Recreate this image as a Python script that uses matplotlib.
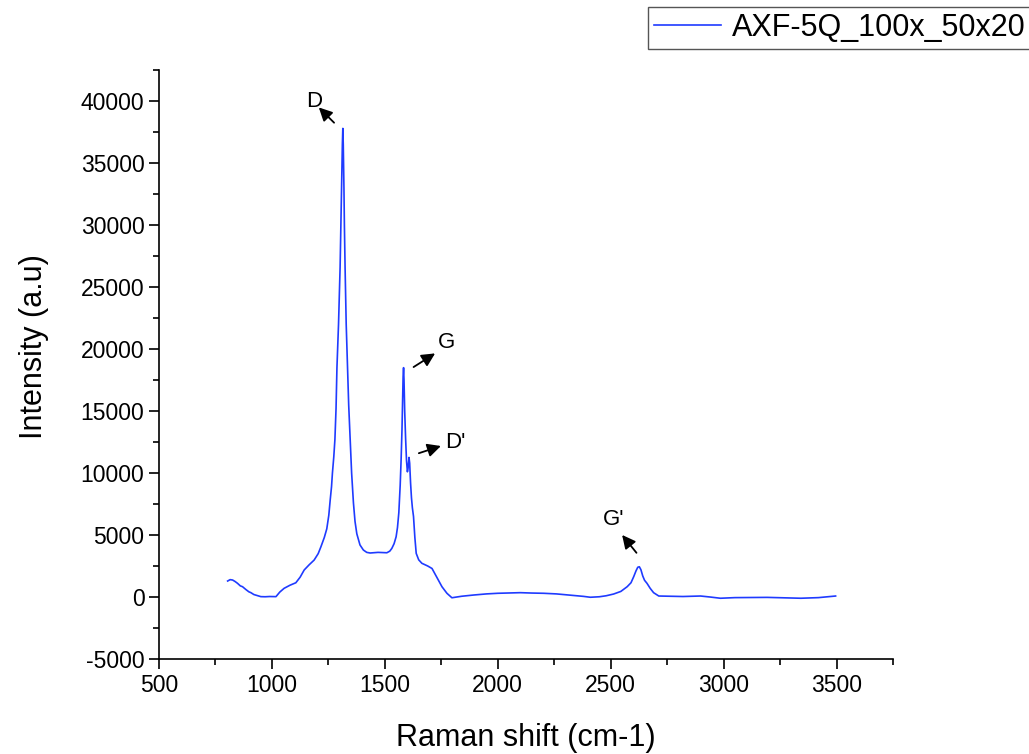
import matplotlib
matplotlib.use("Agg")
import matplotlib.pyplot as plt
from matplotlib.ticker import MultipleLocator

plt.rcParams['font.family'] = ['Liberation Sans', 'DejaVu Sans']
plt.rcParams['axes.unicode_minus'] = False

# spectrum (Raman shift, intensity)
shift = [804, 815, 826, 837, 848, 860, 870, 885, 898, 907, 920, 935, 951, 970,
         990, 1018, 1035, 1054, 1080, 1106, 1125, 1143, 1165, 1187, 1205, 1217,
         1232, 1243, 1252, 1258, 1264, 1268, 1274, 1279, 1284, 1288, 1295, 1302,
         1306, 1309, 1312, 1314, 1316, 1319, 1321, 1324, 1329, 1335, 1340, 1346,
         1353, 1361, 1368, 1376, 1390, 1405, 1420, 1435, 1470, 1509, 1522, 1531,
         1541, 1550, 1556, 1562, 1568, 1572, 1576, 1579, 1581, 1583, 1585, 1588,
         1592, 1596, 1600, 1603, 1607, 1610, 1614, 1618, 1622, 1627, 1633, 1639,
         1650, 1664, 1690, 1709, 1730, 1753, 1775, 1797, 1840, 1893, 1950, 2000,
         2100, 2150, 2203, 2260, 2320, 2380, 2410, 2450, 2480, 2513, 2545, 2573,
         2590, 2602, 2612, 2620, 2627, 2634, 2642, 2650, 2661, 2675, 2690, 2713,
         2760, 2820, 2898, 2940, 2986, 3050, 3120, 3193, 3260, 3342, 3420, 3496]
intensity = [1290, 1400, 1370, 1250, 1100, 900, 830, 600, 420, 350, 200, 120, 30,
             20, 40, 30, 400, 700, 950, 1150, 1600, 2180, 2600, 2980, 3500, 4050,
             4800, 5500, 6600, 7800, 8900, 10000, 11300, 12700, 15200, 18500, 22000,
             26600, 30500, 33800, 36500, 37800, 36500, 33000, 30000, 26600, 22000,
             18500, 15500, 13000, 10000, 7600, 6100, 5100, 4200, 3790, 3600, 3550,
             3600, 3570, 3700, 3920, 4300, 4860, 5600, 6800, 9000, 11000, 13500,
             16000, 17800, 18500, 17500, 15000, 12800, 11000, 10100, 10400, 11260,
             10800, 9200, 8000, 7200, 6500, 4800, 3520, 3000, 2720, 2500, 2300,
             1600, 830, 300, -60, 60, 160, 250, 300, 350, 320, 300, 250, 150, 50,
             -20, 20, 100, 240, 450, 830, 1150, 1640, 2100, 2400, 2440, 2200, 1700,
             1350, 1100, 700, 350, 80, 60, 40, 80, 0, -100, -50, -40, -30, -60,
             -100, -50, 80]

fig = plt.figure(figsize=(10.29, 7.54), dpi=100)
ax = fig.add_axes([0.1545, 0.126, 0.7133, 0.781])

ax.plot(shift, intensity, color='#1f3bff', lw=1.2, label='AXF-5Q_100x_50x20')

ax.set_xlim(500, 3750)
ax.set_ylim(-5000, 42500)
ax.xaxis.set_major_locator(MultipleLocator(500))
ax.xaxis.set_minor_locator(MultipleLocator(250))
ax.yaxis.set_major_locator(MultipleLocator(5000))
ax.yaxis.set_minor_locator(MultipleLocator(2500))
ax.tick_params(which='major', direction='out', length=7, width=1.2, labelsize=16.5)
ax.tick_params(which='minor', direction='out', length=4, width=1.2)
for s in ['top', 'right']:
    ax.spines[s].set_visible(False)
for s in ['left', 'bottom']:
    ax.spines[s].set_linewidth(1.2)

ax.set_xlabel('Raman shift (cm-1)', fontsize=22, labelpad=19)
ax.set_ylabel('Intensity (a.u)', fontsize=22, labelpad=23, y=0.53)

# peak labels
arrow = dict(arrowstyle='-|>', color='black', lw=1.3, mutation_scale=20)
ax.annotate('', xy=(1199, 39650), xytext=(1284, 38100), arrowprops=arrow)
ax.text(1187, 40000, 'D', fontsize=16, ha='center', va='center')
ax.annotate('', xy=(1733, 19770), xytext=(1617, 18430), arrowprops=arrow)
ax.text(1775, 20500, 'G', fontsize=16, ha='center', va='center')
ax.annotate('', xy=(1760, 12250), xytext=(1639, 11530), arrowprops=arrow)
ax.text(1812, 12440, "D'", fontsize=16, ha='center', va='center')
ax.annotate('', xy=(2543, 5180), xytext=(2622, 3390), arrowprops=arrow)
ax.text(2514, 6260, "G'", fontsize=16, ha='center', va='center')

leg = ax.legend(loc='upper left', bbox_to_anchor=(648 / 1029, 1 - 7 / 754),
                bbox_transform=fig.transFigure, fontsize=22, fancybox=False,
                edgecolor='#555555', handlelength=2.2, handletextpad=0.35,
                borderaxespad=0, borderpad=0.2, framealpha=1)
leg.get_frame().set_linewidth(1.0)

fig.savefig('out.png', dpi=100)
